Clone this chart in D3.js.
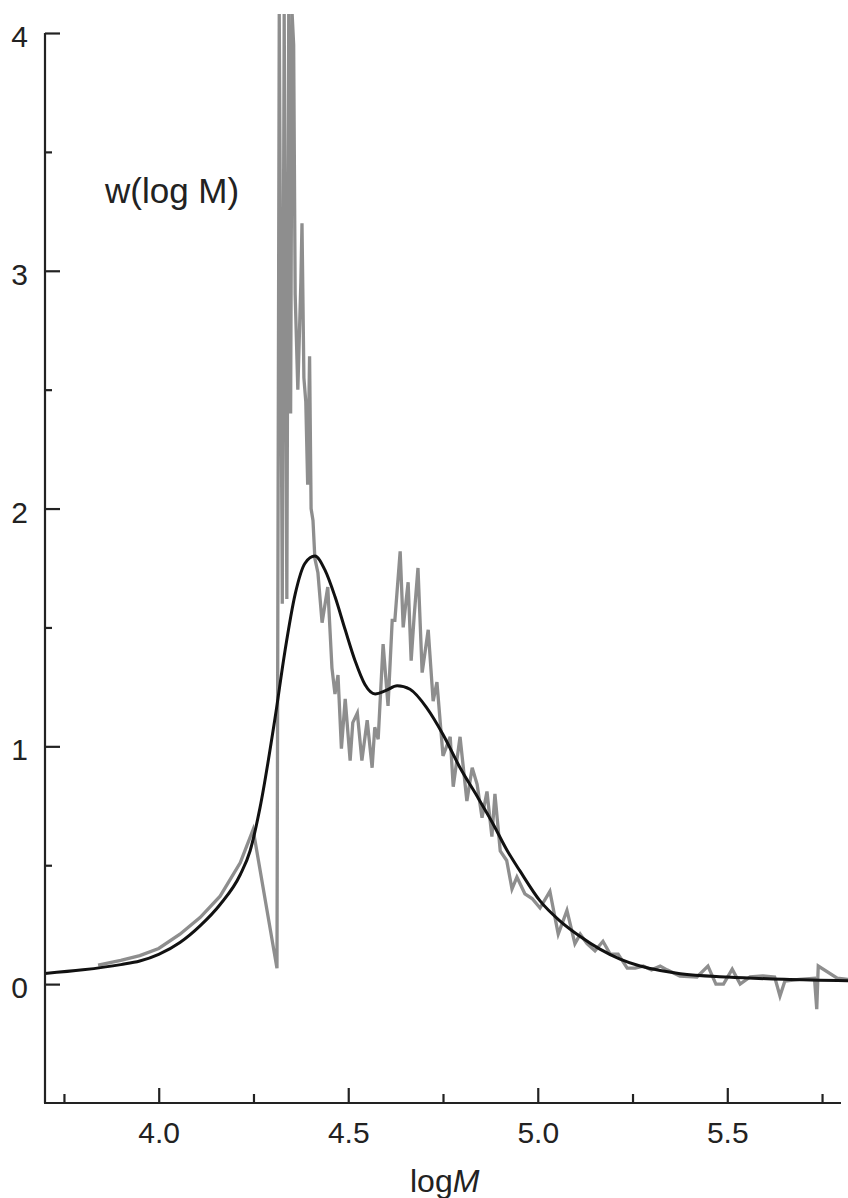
<!DOCTYPE html>
<html>
<head>
<meta charset="utf-8">
<script src="https://cdn.jsdelivr.net/npm/d3@7"></script>
<style>
  html, body { margin: 0; padding: 0; background: #fff; }
  svg { display: block; }
  text { font-family: Arial, "Liberation Sans", Helvetica, sans-serif; fill: #222; }
</style>
</head>
<body>
<svg id="chart" width="848" height="1198"></svg>
<script>
// ---- data ----
const xMajorTicks = [4.0, 4.5, 5.0, 5.5];
const xMinorTicks = [3.75, 4.25, 4.75, 5.25, 5.75];
const yMajorTicks = [0, 1, 2, 3, 4];
const yMinorTicks = [0.5, 1.5, 2.5, 3.5];

// smooth fitted distribution (black)
const fitLogM = [3.70, 3.80, 3.90, 3.95, 4.00, 4.056, 4.109, 4.162, 4.215, 4.241, 4.267, 4.307, 4.333, 4.360, 4.386, 4.412, 4.439, 4.465, 4.492, 4.518, 4.544, 4.571, 4.600, 4.629, 4.663, 4.708, 4.750, 4.795, 4.840, 4.880, 4.920, 4.953, 5.006, 5.059, 5.112, 5.164, 5.217, 5.270, 5.323, 5.376, 5.50, 5.65, 5.82];
const fitW   = [0.045, 0.06, 0.082, 0.097, 0.125, 0.175, 0.245, 0.335, 0.46, 0.56, 0.74, 1.12, 1.40, 1.64, 1.77, 1.80, 1.74, 1.63, 1.49, 1.36, 1.26, 1.22, 1.235, 1.255, 1.24, 1.16, 1.05, 0.91, 0.79, 0.68, 0.56, 0.476, 0.35, 0.265, 0.20, 0.147, 0.105, 0.076, 0.057, 0.044, 0.03, 0.02, 0.014];

// measured distribution (gray)
const measLogM = [3.84, 3.90, 3.95, 4.00, 4.056, 4.109, 4.162, 4.215, 4.249, 4.312, 4.318, 4.326, 4.331, 4.338, 4.343, 4.348, 4.352, 4.356, 4.360, 4.367, 4.375, 4.378, 4.383, 4.388, 4.393, 4.398, 4.402, 4.407, 4.412, 4.420, 4.431, 4.446, 4.457, 4.465, 4.473, 4.482, 4.492, 4.505, 4.512, 4.524, 4.536, 4.550, 4.563, 4.570, 4.579, 4.592, 4.605, 4.616, 4.623, 4.637, 4.645, 4.658, 4.666, 4.674, 4.684, 4.695, 4.711, 4.724, 4.734, 4.750, 4.769, 4.777, 4.795, 4.813, 4.827, 4.840, 4.853, 4.866, 4.879, 4.887, 4.901, 4.918, 4.932, 4.945, 4.966, 4.985, 5.006, 5.032, 5.054, 5.077, 5.098, 5.112, 5.130, 5.151, 5.172, 5.191, 5.212, 5.236, 5.257, 5.278, 5.300, 5.323, 5.341, 5.375, 5.420, 5.449, 5.470, 5.490, 5.513, 5.534, 5.560, 5.594, 5.625, 5.639, 5.652, 5.690, 5.730, 5.736, 5.740, 5.790, 5.820];
const measW    = [0.08, 0.10, 0.12, 0.15, 0.21, 0.28, 0.37, 0.51, 0.65, 0.067, 4.08, 1.60, 4.08, 1.62, 4.08, 2.40, 4.08, 3.95, 2.90, 2.50, 2.95, 3.20, 2.55, 2.45, 2.10, 2.64, 2.00, 1.95, 1.79, 1.73, 1.52, 1.67, 1.33, 1.22, 1.30, 0.99, 1.20, 0.94, 1.10, 1.14, 0.94, 1.11, 0.91, 1.08, 1.03, 1.43, 1.17, 1.53, 1.53, 1.82, 1.50, 1.69, 1.36, 1.55, 1.75, 1.31, 1.49, 1.19, 1.27, 0.96, 1.04, 0.83, 1.04, 0.77, 0.91, 0.84, 0.70, 0.81, 0.62, 0.80, 0.56, 0.52, 0.40, 0.45, 0.38, 0.36, 0.32, 0.39, 0.21, 0.31, 0.17, 0.21, 0.17, 0.14, 0.18, 0.126, 0.126, 0.067, 0.067, 0.076, 0.06, 0.076, 0.06, 0.034, 0.03, 0.076, 0.0, 0.0, 0.063, 0.0, 0.03, 0.034, 0.03, -0.05, 0.013, 0.02, 0.025, -0.105, 0.076, 0.025, 0.02];

// ---- chart ----
const svg = d3.select("#chart");
const x = d3.scaleLinear().domain([3.7, 5.8]).range([45, 841]);
const y = d3.scaleLinear().domain([-0.5, 4]).range([1103, 33]);

const fitData = fitLogM.map((m, i) => [m, fitW[i]]);
const measData = measLogM.map((m, i) => [m, measW[i]]);

svg.append("path")
  .datum(measData)
  .attr("d", d3.line().x(d => x(d[0])).y(d => y(d[1])).curve(d3.curveLinear))
  .attr("fill", "none")
  .attr("stroke", "#8e8e8e")
  .attr("stroke-width", 3.3)
  .attr("stroke-linejoin", "miter");

svg.append("path")
  .datum(fitData)
  .attr("d", d3.line().x(d => x(d[0])).y(d => y(d[1])).curve(d3.curveMonotoneX))
  .attr("fill", "none")
  .attr("stroke", "#111")
  .attr("stroke-width", 3);

// axes
const yAxis = d3.axisLeft(y).tickValues(yMajorTicks).tickSize(-15).tickPadding(17).tickFormat(d3.format("d"));
const yAxisMinor = d3.axisLeft(y).tickValues(yMinorTicks).tickSize(-7).tickFormat("");
const xAxis = d3.axisBottom(x).tickValues(xMajorTicks).tickSize(-15).tickPadding(19).tickFormat(d3.format(".1f"));
const xAxisMinor = d3.axisBottom(x).tickValues(xMinorTicks).tickSize(-9).tickFormat("");

function styleAxis(g) {
  g.select(".domain").attr("stroke", "#222").attr("stroke-width", 2.2);
  g.selectAll(".tick line").attr("stroke", "#222").attr("stroke-width", 2.2);
  g.selectAll(".tick text").attr("font-size", 30).attr("fill", "#222")
    .style("font-family", "Arial, 'Liberation Sans', sans-serif");
}

const gy = svg.append("g").attr("transform", "translate(45,0)").call(yAxis).call(styleAxis);
gy.select(".domain").attr("d", `M0,${y(4)}V${y(-0.5)}`);
gy.selectAll(".tick text").attr("dy", "0.45em");
svg.append("g").attr("transform", "translate(45,0)").call(yAxisMinor).call(styleAxis)
  .select(".domain").remove();

const gx = svg.append("g").attr("transform", "translate(0,1103)").call(xAxis).call(styleAxis);
gx.select(".domain").attr("d", `M${x(3.7) - 1},0H${x(5.8)}`);
svg.append("g").attr("transform", "translate(0,1103)").call(xAxisMinor).call(styleAxis)
  .select(".domain").remove();

// labels
svg.append("text")
  .attr("x", 105).attr("y", 203)
  .attr("font-size", 35)
  .text("w(log M)");

const xl = svg.append("text")
  .attr("x", 410).attr("y", 1192)
  .attr("font-size", 32);
xl.append("tspan").text("log");
xl.append("tspan").attr("font-style", "italic").text("M");
</script>
</body>
</html>
